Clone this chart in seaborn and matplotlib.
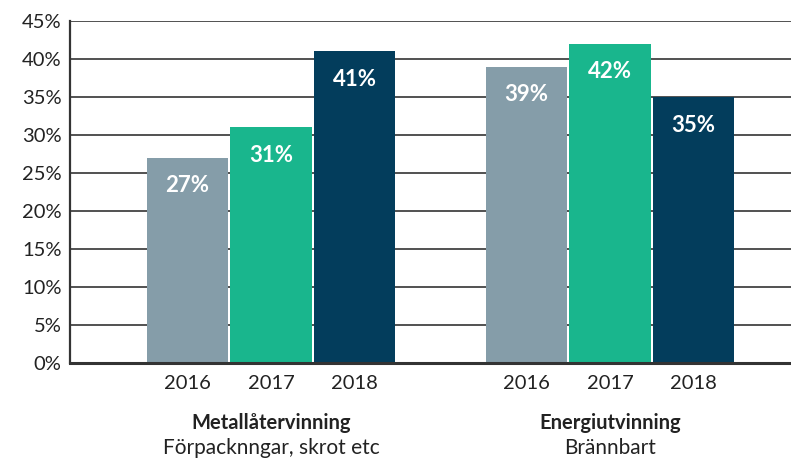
import pandas as pd
import matplotlib.pyplot as plt
import seaborn as sns

# ====================== DATA ======================
groups = ["Metallåtervinning", "Energiutvinning"]
subtitles = ["Förpacknngar, skrot etc", "Brännbart"]
years = ["2016", "2017", "2018"]
values = {
    "2016": [27, 39],
    "2017": [31, 42],
    "2018": [41, 35],
}
colors = ["#859DA9", "#19B68D", "#033D5C"]

rows = []
for y in years:
    for g, v in zip(groups, values[y]):
        rows.append({"group": g, "year": y, "value": v})
df = pd.DataFrame(rows)

# ====================== PLOT ======================
sns.set_theme(style="white")
plt.rcParams["font.family"] = ["Lato", "DejaVu Sans"]

fig = plt.figure(figsize=(7.91, 4.58), dpi=100)
ax = fig.add_axes([0.0885, 0.2074, 0.9115, 0.7466])

sns.barplot(data=df, x="group", y="value", hue="year", order=groups,
            hue_order=years, palette=colors, width=0.74, gap=0.03,
            saturation=1, linewidth=0, legend=False, ax=ax, zorder=3)

ax.set_ylim(0, 45)
ax.set_xlim(-0.593, 1.534)
ax.set_yticks(range(0, 46, 5))
ax.set_yticklabels([f"{t}%" for t in range(0, 46, 5)], fontsize=14.5, color="#222222")
ax.yaxis.grid(True, color="#222222", linewidth=1.1, zorder=0)
ax.set_axisbelow(True)
ax.tick_params(axis="y", length=0, pad=6)

ax.set_xticks([])
ax.set_xlabel("")
ax.set_ylabel("")

for side in ["top", "right"]:
    ax.spines[side].set_visible(False)
ax.spines["left"].set_color("#333333")
ax.spines["left"].set_linewidth(1.6)
ax.spines["bottom"].set_color("#333333")
ax.spines["bottom"].set_linewidth(2.2)
ax.spines["bottom"].set_zorder(5)

# value labels + year labels under bars
for container, y in zip(ax.containers, years):
    for bar in container:
        cx = bar.get_x() + bar.get_width() / 2
        h = bar.get_height()
        ax.text(cx, h - 3.7, f"{h:.0f}%", ha="center", va="center",
                color="white", fontsize=16, fontweight="bold", zorder=6)
        ax.annotate(y, xy=(cx, 0), xycoords="data", xytext=(0, -15),
                    textcoords="offset points", ha="center", va="center",
                    fontsize=14.5, color="#222222", annotation_clip=False)

for i, (g, s) in enumerate(zip(groups, subtitles)):
    ax.annotate(g, xy=(i, 0), xycoords="data", xytext=(0, -43),
                textcoords="offset points", ha="center", va="center",
                fontsize=14.5, fontweight="bold", color="#222222", annotation_clip=False)
    ax.annotate(s, xy=(i, 0), xycoords="data", xytext=(0, -61),
                textcoords="offset points", ha="center", va="center",
                fontsize=15, color="#222222", annotation_clip=False)

plt.savefig("out.png", dpi=100)
